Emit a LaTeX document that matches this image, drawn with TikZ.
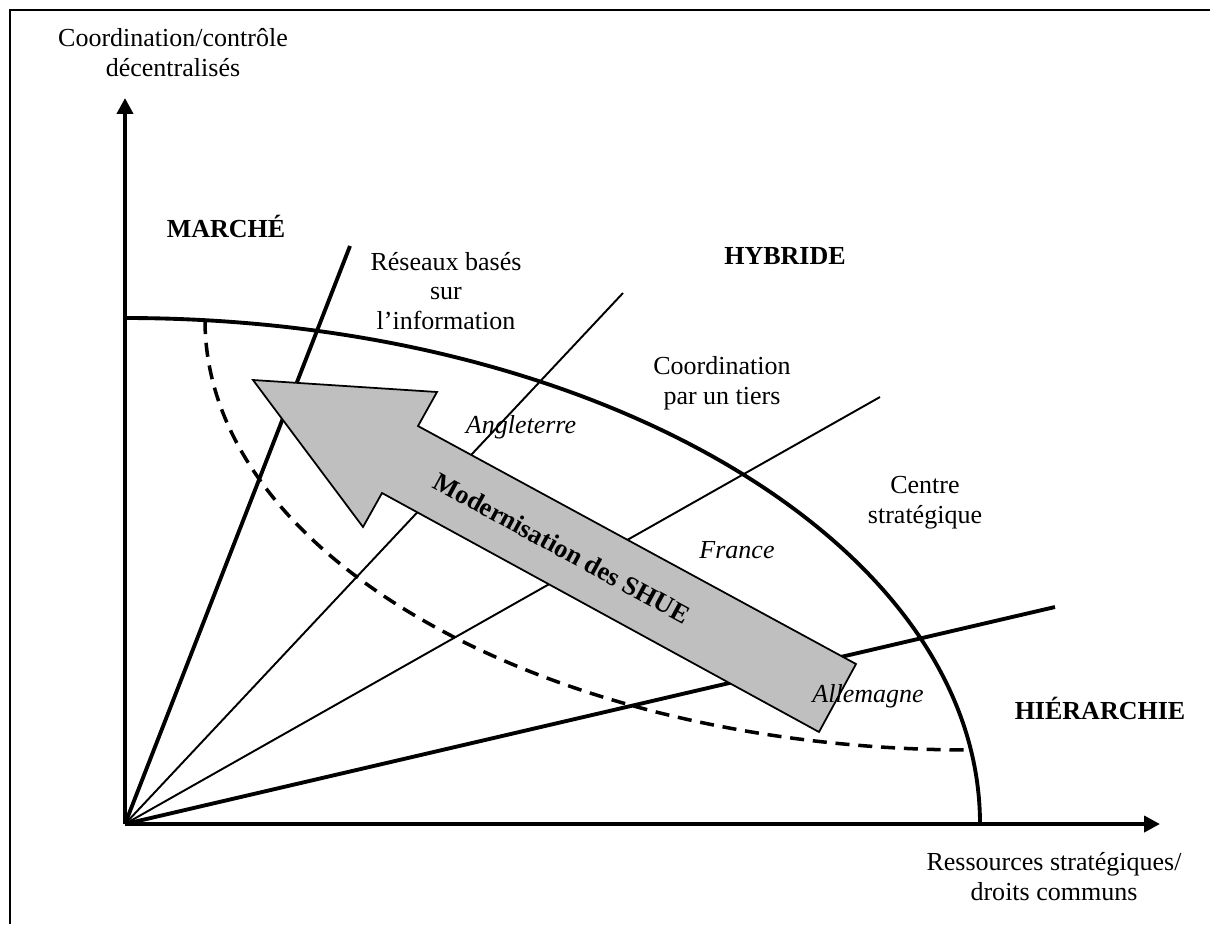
\documentclass[tikz,border=0pt]{standalone}
\usepackage{fontspec}
\setmainfont{Liberation Serif}
\usetikzlibrary{arrows.meta}
\begin{document}
\begin{tikzpicture}[x=0.02cm,y=0.02cm,
  lbl/.style={font=\fontsize{14.8}{17}\selectfont, align=center, inner sep=0pt},
  bold/.style={lbl, font=\fontsize{14.8}{17}\selectfont\bfseries},
  country/.style={lbl, font=\fontsize{14.8}{17}\selectfont\itshape},
  axis/.style={line width=2.2pt, -{Triangle[length=9pt,width=9pt]}},
  thickray/.style={line width=2.2pt},
  thinray/.style={line width=1.1pt},
  bigarrow/.style={fill=gray!50, draw=black, line width=1pt, line join=miter}]
\useasboundingbox (0,0) rectangle (1210,-924);
\draw[line width=1pt] (10,-924) -- (10,-10) -- (1210,-10);
% coordinates
\coordinate (O) at (125,-824);
\coordinate (ytip) at (125,-98);
\coordinate (xtip) at (1160,-824);
\coordinate (r1) at (350,-246);
\coordinate (r2) at (623,-293);
\coordinate (r3) at (880,-397);
\coordinate (r4) at (1055,-607);
\coordinate (arcA) at (125,-318);
\coordinate (dashA) at (205,-320);
% rays
\draw[thickray] (O) -- (r1);
\draw[thinray] (O) -- (r2);
\draw[thinray] (O) -- (r3);
\draw[thickray] (O) -- (r4);
% arcs
\draw[line width=2.2pt] (arcA) arc[start angle=90, end angle=0, x radius=855, y radius=506];
\draw[line width=2pt, dash pattern=on 8pt off 5pt] (dashA) arc[start angle=180, end angle=270, x radius=767, y radius=430];
% axes
\draw[axis] (O) -- (ytip);
\draw[axis] (O) -- (xtip);
% big arrow
\draw[bigarrow] (253,-380) -- (437,-392) -- (418,-426) -- (856,-664) -- (819,-732) -- (382,-493) -- (363,-527) -- cycle;
\node[bold, font=\fontsize{15}{17}\selectfont\bfseries, rotate=-28.5] (modern) at (562,-548) {Modernisation des SHUE};
% labels
\node[lbl] (ylab) at (173,-53) {Coordination/contrôle\\décentralisés};
\node[lbl] (xlab) at (1054,-877) {Ressources stratégiques/\\droits communs};
\node[bold] (marche) at (226,-226) {MARCHÉ};
\node[bold] (hybride) at (785,-256) {HYBRIDE};
\node[bold] (hier) at (1100,-708) {HIÉRARCHIE};
\node[lbl] (reseaux) at (446,-291) {Réseaux basés\\sur\\l’information};
\node[lbl] (tiers) at (722,-383) {Coordination\\par un tiers};
\node[lbl] (centre) at (925,-503) {Centre\\stratégique};
\node[country] (angl) at (521,-427) {Angleterre};
\node[country] (france) at (737,-550) {France};
\node[country] (allem) at (868,-696) {Allemagne};
\end{tikzpicture}
\end{document}
